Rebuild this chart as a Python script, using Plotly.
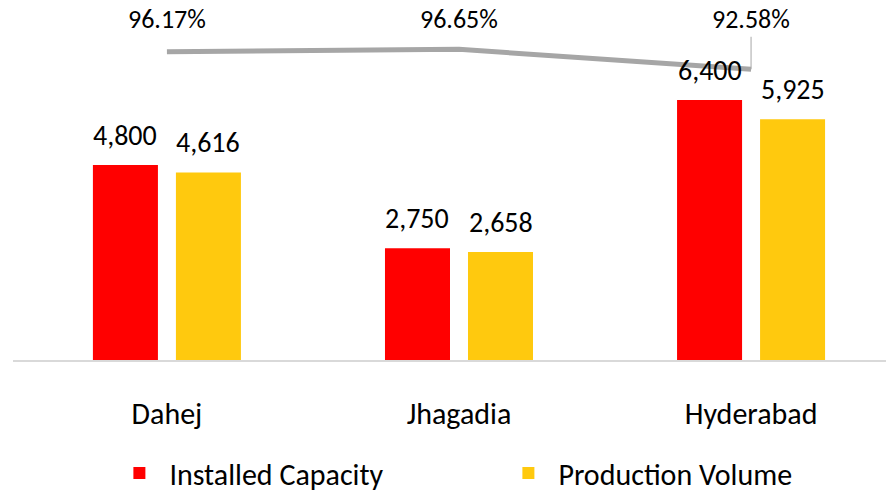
import plotly.graph_objects as go

categories = ["Dahej", "Jhagadia", "Hyderabad"]
installed_capacity = [4800, 2750, 6400]
production_volume = [4616, 2658, 5925]
utilization_pct = [96.17, 96.65, 92.58]

FONT = "Calibri, Carlito, Lato, sans-serif"
RED = "#FF0000"
YELLOW = "#FFC90E"
GRAY = "#A6A6A6"

BAR_W = 0.2226
RED_OFF = -0.2534
YEL_OFF = 0.0308

fig = go.Figure()
fig.add_trace(go.Bar(
    x=categories, y=installed_capacity, name="Installed Capacity",
    marker=dict(color=RED, line=dict(width=0)), width=BAR_W, offset=RED_OFF,
))
fig.add_trace(go.Bar(
    x=categories, y=production_volume, name="Production Volume",
    marker=dict(color=YELLOW, line=dict(width=0)), width=BAR_W, offset=YEL_OFF,
))
fig.add_trace(go.Scatter(
    x=categories, y=utilization_pct, yaxis="y2", mode="lines",
    line=dict(color=GRAY, width=5), showlegend=False, hoverinfo="skip",
))

annotations = []
for i, (ic, pv) in enumerate(zip(installed_capacity, production_volume)):
    annotations.append(dict(x=i + RED_OFF + BAR_W / 2, y=ic, xref="x", yref="y",
                            text=f"{ic:,}", showarrow=False, yanchor="bottom", yshift=10,
                            font=dict(size=28, color="black", family=FONT)))
    annotations.append(dict(x=i + YEL_OFF + BAR_W / 2, y=pv, xref="x", yref="y",
                            text=f"{pv:,}", showarrow=False, yanchor="bottom", yshift=10,
                            font=dict(size=28, color="black", family=FONT)))

for i, p in enumerate(utilization_pct):
    if i == len(utilization_pct) - 1:
        annotations.append(dict(x=i, y=p, xref="x", yref="y2", text=f"{p:.2f}%",
                                showarrow=True, arrowhead=0, arrowwidth=1, arrowcolor=GRAY,
                                ax=0, ay=-50, standoff=0,
                                font=dict(size=26, color="black", family=FONT)))
    else:
        annotations.append(dict(x=i, y=0.9606, xref="x", yref="paper", text=f"{p:.2f}%",
                                showarrow=False, yanchor="middle",
                                font=dict(size=26, color="black", family=FONT)))

fig.update_layout(
    width=886, height=494,
    margin=dict(l=13, r=0, t=5, b=134, autoexpand=False),
    paper_bgcolor="white", plot_bgcolor="white",
    barmode="group",
    font=dict(family=FONT, color="black"),
    xaxis=dict(range=[-0.527, 2.462], showgrid=False, showline=True, linecolor="#D9D9D9",
               linewidth=1.5, ticks="outside", ticklen=26, tickcolor="rgba(0,0,0,0)",
               tickfont=dict(size=30, color="black", family=FONT), zeroline=False,
               automargin=False),
    yaxis=dict(range=[0, 8738], visible=False, showgrid=False, zeroline=False),
    yaxis2=dict(range=[33.37, 105.67], overlaying="y", visible=False, showgrid=False,
                zeroline=False),
    legend=dict(orientation="h", x=0.556, xanchor="center", y=-0.318, yanchor="middle",
                font=dict(size=30, color="black", family=FONT), itemwidth=50,
                traceorder="normal", entrywidth=324),
    annotations=annotations,
    showlegend=True,
)

fig.write_html("out.html", config={"displayModeBar": False},
               post_script="document.body.style.margin='0';document.body.style.overflow='hidden';")
